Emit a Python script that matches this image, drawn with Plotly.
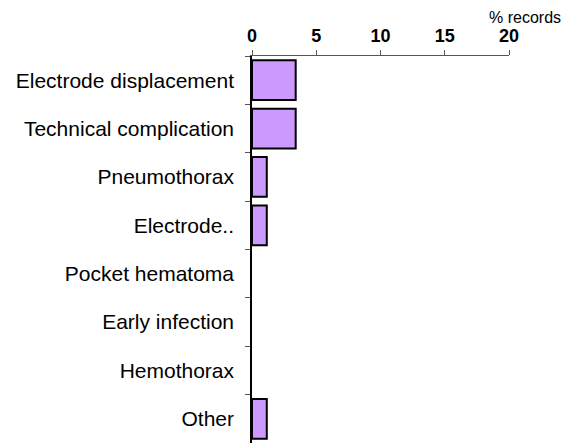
import plotly.graph_objects as go

# complication types, top to bottom
categories = [
    "Electrode displacement",
    "Technical complication",
    "Pneumothorax",
    "Electrode..",
    "Pocket hematoma",
    "Early infection",
    "Hemothorax",
    "Other",
]
pct_records = [3.4, 3.4, 1.15, 1.15, 0, 0, 0, 1.15]
x_ticks = [0, 5, 10, 15, 20]

# no outline on empty bars
outline = [2 if v > 0 else 0 for v in pct_records]

fig = go.Figure(data=[go.Bar(
    x=pct_records, y=categories,
    orientation='h',
    marker=dict(color='#CC99FF', line=dict(color='black', width=outline)),
    width=0.82,
)])

fig.update_layout(
    width=572, height=443,
    margin=dict(l=244, r=71, t=48, b=8),
    paper_bgcolor='white', plot_bgcolor='white',
    font=dict(family='Liberation Sans, Arial, sans-serif', color='black'),
    showlegend=False,
    xaxis=dict(
        side='top', range=[0, 20], tickvals=x_ticks,
        showgrid=False, zeroline=False,
        showline=True, linecolor='#555', linewidth=1,
        ticks='outside', ticklen=5, tickcolor='#555',
        ticklabelstandoff=1,
        tickfont=dict(size=18, weight='bold'),
    ),
    yaxis=dict(
        autorange='reversed', showgrid=False,
        showline=True, linecolor='black', linewidth=1.5,
        ticks='outside', ticklen=5, tickcolor='#555', tickson='boundaries',
        ticklabelstandoff=12,
        tickfont=dict(size=21),
    ),
    annotations=[dict(
        text='% records', xref='paper', yref='paper',
        x=1, y=1.124, xshift=16, xanchor='center', yanchor='top',
        showarrow=False, font=dict(size=16), borderpad=0,
    )],
)

fig.write_html("out.html")
